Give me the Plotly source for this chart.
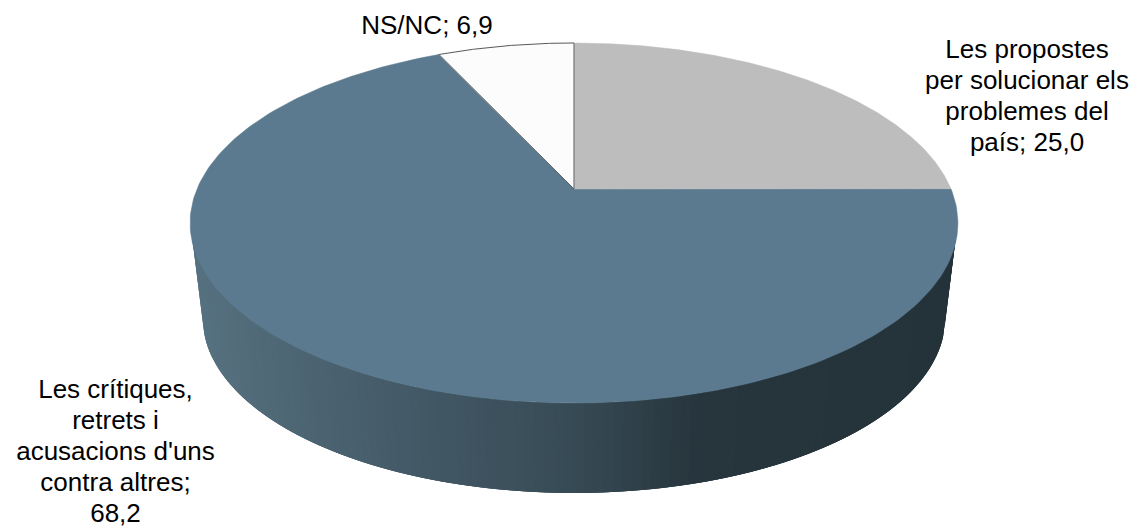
import numpy as np
import plotly.graph_objects as go

# Data, clockwise from 12 o'clock
categories = ["Les propostes per solucionar els problemes del país", "Les crítiques, retrets i acusacions d'uns contra altres", "NS/NC"]
values = [25.0, 68.2, 6.9]
colors = ["#BDBDBD", "#5B7A8F", "#FCFCFC"]
label_lines = [
    ["Les propostes", "per solucionar els", "problemes del", "país; 25,0"],
    ["Les crítiques,", "retrets i", "acusacions d'uns", "contra altres;", "68,2"],
    ["NS/NC; 6,9"],
]
label_x = [1027, 115.5, 427]
label_y0 = [51.5, 391.5, 27]
LINE = 31.0
FONT = 26

W, H = 1134, 529
# Perspective disc geometry (pixel-scale axes)
cx, ay = 574.0, 189.0      # apex of the slices
k, a, b = 0.1889, 173.6, 377.0
top_c, top_rx, top_ry = 223.0, 383.0, 180.0
bot_c, bot_rx, bot_ry = 319.0, 371.0, 174.0


def project(theta):
    u, v = np.sin(theta), -np.cos(theta)
    w = 1 - k * v
    return cx + b * u / w, ay + a * v / w


fig = go.Figure()

# Side wall as overlapping strips with a horizontal gradient, painted left to right
stops_x = [191, 400, 574, 700, 958]
stops_c = [(86, 113, 128), (68, 90, 103), (55, 75, 85), (39, 53, 61), (36, 51, 58)]
ts = np.linspace(np.pi, 0, 121)
for n in range(len(ts) - 1):
    seg = ts[n:min(n + 4, len(ts))]
    xt = cx + top_rx * np.cos(seg)
    yt = top_c + top_ry * np.sin(seg)
    xb = cx + bot_rx * np.cos(seg[::-1])
    yb = bot_c + bot_ry * np.sin(seg[::-1])
    xm = cx + top_rx * np.cos((ts[n] + ts[n + 1]) / 2)
    rgb = [int(round(np.interp(xm, stops_x, [c[i] for c in stops_c]))) for i in range(3)]
    col = f"rgb({rgb[0]},{rgb[1]},{rgb[2]})"
    fig.add_trace(go.Scatter(
        x=[*xt, *xb, xt[0]], y=[*yt, *yb, yt[0]], mode="lines", fill="toself",
        fillcolor=col, line=dict(width=0), hoverinfo="skip", showlegend=False))

# Top face slices
shares = np.array(values) / sum(values)
edges = np.concatenate([[0], np.cumsum(shares)]) * 2 * np.pi
order = [1, 0, 2]
for i in order:
    th = np.linspace(edges[i], edges[i + 1], 240)
    x, y = project(th)
    fig.add_trace(go.Scatter(
        x=[cx, *x, cx], y=[ay, *y, ay], mode="lines", fill="toself", fillcolor=colors[i],
        line=dict(color=colors[i], width=0.5), name=categories[i], hoverinfo="skip", showlegend=False))

# Slice edges around NS/NC
th = np.linspace(edges[2], edges[3], 60)
x, y = project(th)
fig.add_trace(go.Scatter(x=[cx, *x, cx], y=[ay, *y, ay], mode="lines",
                         line=dict(color="#55595C", width=1), hoverinfo="skip", showlegend=False))

# Labels
for lines, lx, ly in zip(label_lines, label_x, label_y0):
    fig.add_trace(go.Scatter(
        x=[lx] * len(lines), y=[ly + LINE * n for n in range(len(lines))], mode="text",
        text=lines, textposition="middle center",
        textfont=dict(family="Liberation Sans, Arial", size=FONT, color="#000000"),
        hoverinfo="skip", showlegend=False, cliponaxis=False))

fig.update_layout(
    width=W, height=H, margin=dict(l=0, r=0, t=0, b=0),
    paper_bgcolor="white", plot_bgcolor="white",
    xaxis=dict(range=[0, W], visible=False, fixedrange=True),
    yaxis=dict(range=[H, 0], visible=False, fixedrange=True),
)
fig.write_html("out.html", config={"displayModeBar": False},
               post_script="document.body.style.margin='0';document.body.style.overflow='hidden';")
